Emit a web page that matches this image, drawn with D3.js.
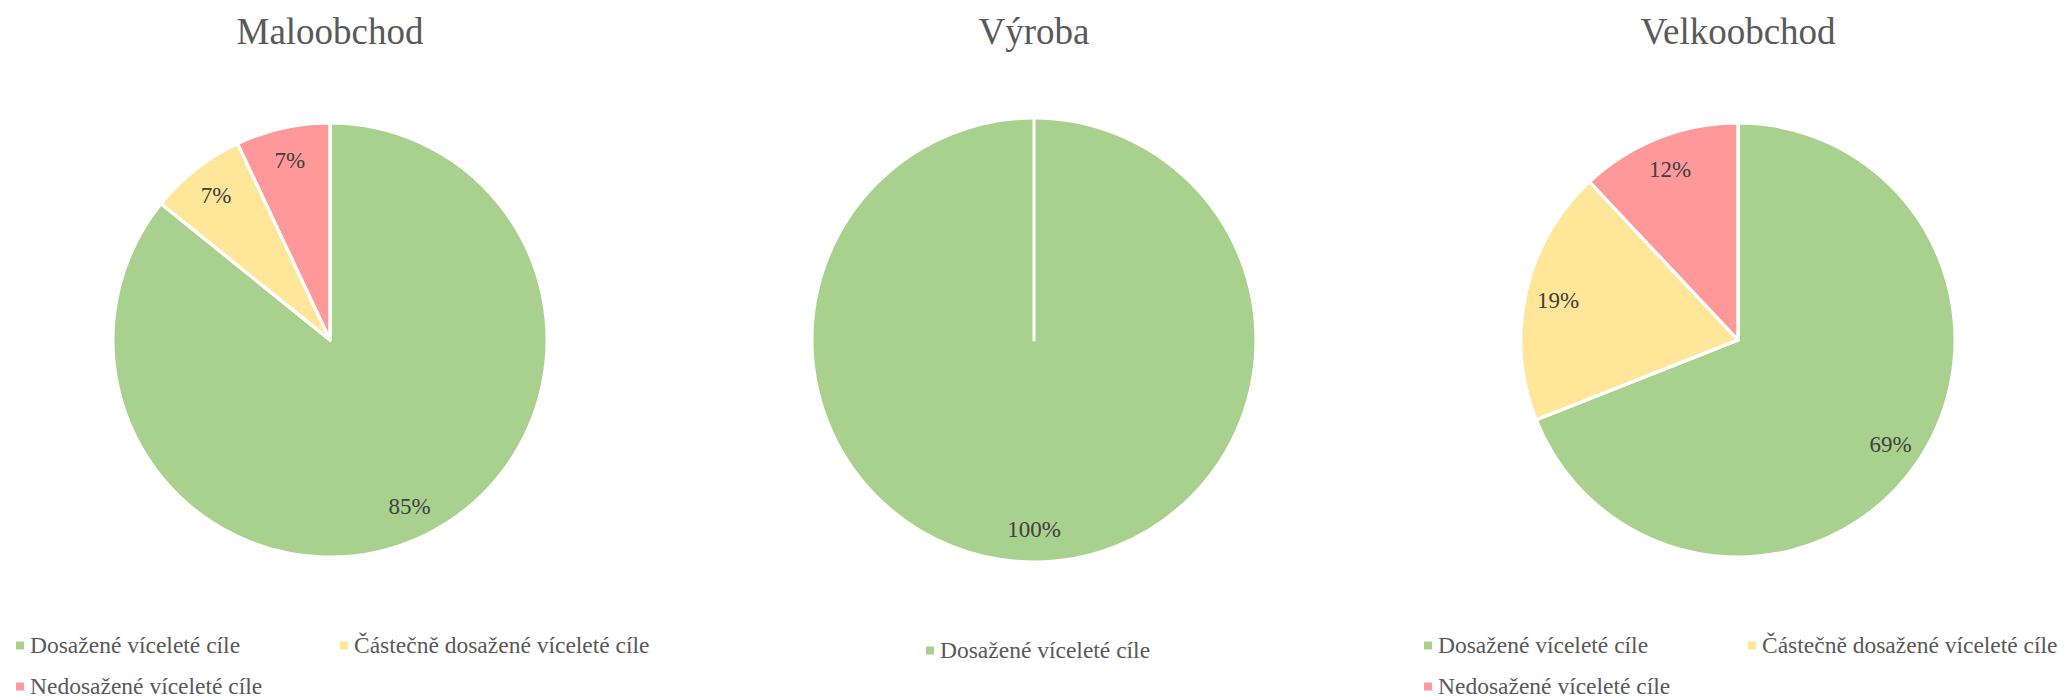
<!DOCTYPE html>
<html>
<head>
<meta charset="utf-8">
<script src="https://cdn.jsdelivr.net/npm/d3@7"></script>
<style>
  body { margin: 0; background: #fff; }
  svg text { font-family: "Liberation Serif", "Times New Roman", serif; }
</style>
</head>
<body>
<div id="chart"></div>
<script>
const width = 2072;
const height = 697;

// data
const titles = ["Maloobchod", "Výroba", "Velkoobchod"];
const categories = ["Dosažené víceleté cíle", "Částečně dosažené víceleté cíle", "Nedosažené víceleté cíle"];
const maloobchod = [85.8, 7.2, 7.0];
const vyroba = [100];
const velkoobchod = [69, 19, 12];
const colors = ["#a9d18e", "#ffe699", "#ff9999"];

// layout of the three panels
const panels = [
    { title: titles[0], values: maloobchod, cx: 330, r: 217, legendY: 645 },
    { title: titles[1], values: vyroba, cx: 1034, r: 222, legendY: 650 },
    { title: titles[2], values: velkoobchod, cx: 1738, r: 217, legendY: 645 }
];
const cy = 340;

const svg = d3.select("#chart")
    .append("svg")
    .attr("width", width)
    .attr("height", height);

const color = d3.scaleOrdinal().domain(categories).range(colors);

const pie = d3.pie().sort(null).value(d => d.value);

panels.forEach(p => {
    const g = svg.append("g");
    const rows = p.values.map((v, i) => ({ cat: categories[i], value: v }));
    const arcs = pie(rows);
    const arc = d3.arc().innerRadius(0).outerRadius(p.r);
    const labelArc = d3.arc().innerRadius(p.r * 0.85).outerRadius(p.r * 0.85);

    // title
    g.append("text")
        .attr("x", p.cx)
        .attr("y", 44)
        .attr("text-anchor", "middle")
        .style("font-size", "37px")
        .style("fill", "#595959")
        .text(p.title);

    const pg = g.append("g").attr("transform", `translate(${p.cx},${cy})`);

    pg.selectAll("path")
        .data(arcs)
        .enter()
        .append("path")
        .attr("d", arc)
        .style("fill", d => color(d.data.cat))
        .style("stroke", "white")
        .style("stroke-width", 3)
        .style("stroke-linejoin", "round");

    // separator lines (Excel draws one even for a single full slice)
    pg.selectAll("line.sep")
        .data(arcs)
        .enter()
        .append("line")
        .attr("class", "sep")
        .attr("x1", 0).attr("y1", 0)
        .attr("x2", d => Math.sin(d.startAngle) * p.r)
        .attr("y2", d => -Math.cos(d.startAngle) * p.r)
        .style("stroke", "white")
        .style("stroke-width", 3)
        .style("stroke-linecap", "round");

    // data labels (whole percent, cut off like in the source sheet)
    pg.selectAll("text.lbl")
        .data(arcs)
        .enter()
        .append("text")
        .attr("class", "lbl")
        .attr("transform", d => `translate(${labelArc.centroid(d)})`)
        .attr("text-anchor", "middle")
        .attr("dy", "0.35em")
        .style("font-size", "23px")
        .style("fill", "#404040")
        .text(d => Math.floor(d.data.value) + "%");

    // legend
    const single = rows.length === 1;
    const lg = g.append("g");
    const items = lg.selectAll("g.item")
        .data(rows)
        .enter()
        .append("g")
        .attr("class", "item")
        .attr("transform", (d, i) => {
            const x = single ? p.cx - 108 : p.cx - 314 + (i % 2) * 324;
            const y = p.legendY + Math.floor(i / 2) * 41;
            return `translate(${x},${y})`;
        });

    items.append("rect")
        .attr("x", 0)
        .attr("y", -3.5)
        .attr("width", 8)
        .attr("height", 8)
        .style("fill", d => color(d.cat));

    items.append("text")
        .attr("x", 14)
        .attr("dy", "0.35em")
        .style("font-size", "23.5px")
        .style("fill", "#595959")
        .text(d => d.cat);
});
</script>
</body>
</html>
